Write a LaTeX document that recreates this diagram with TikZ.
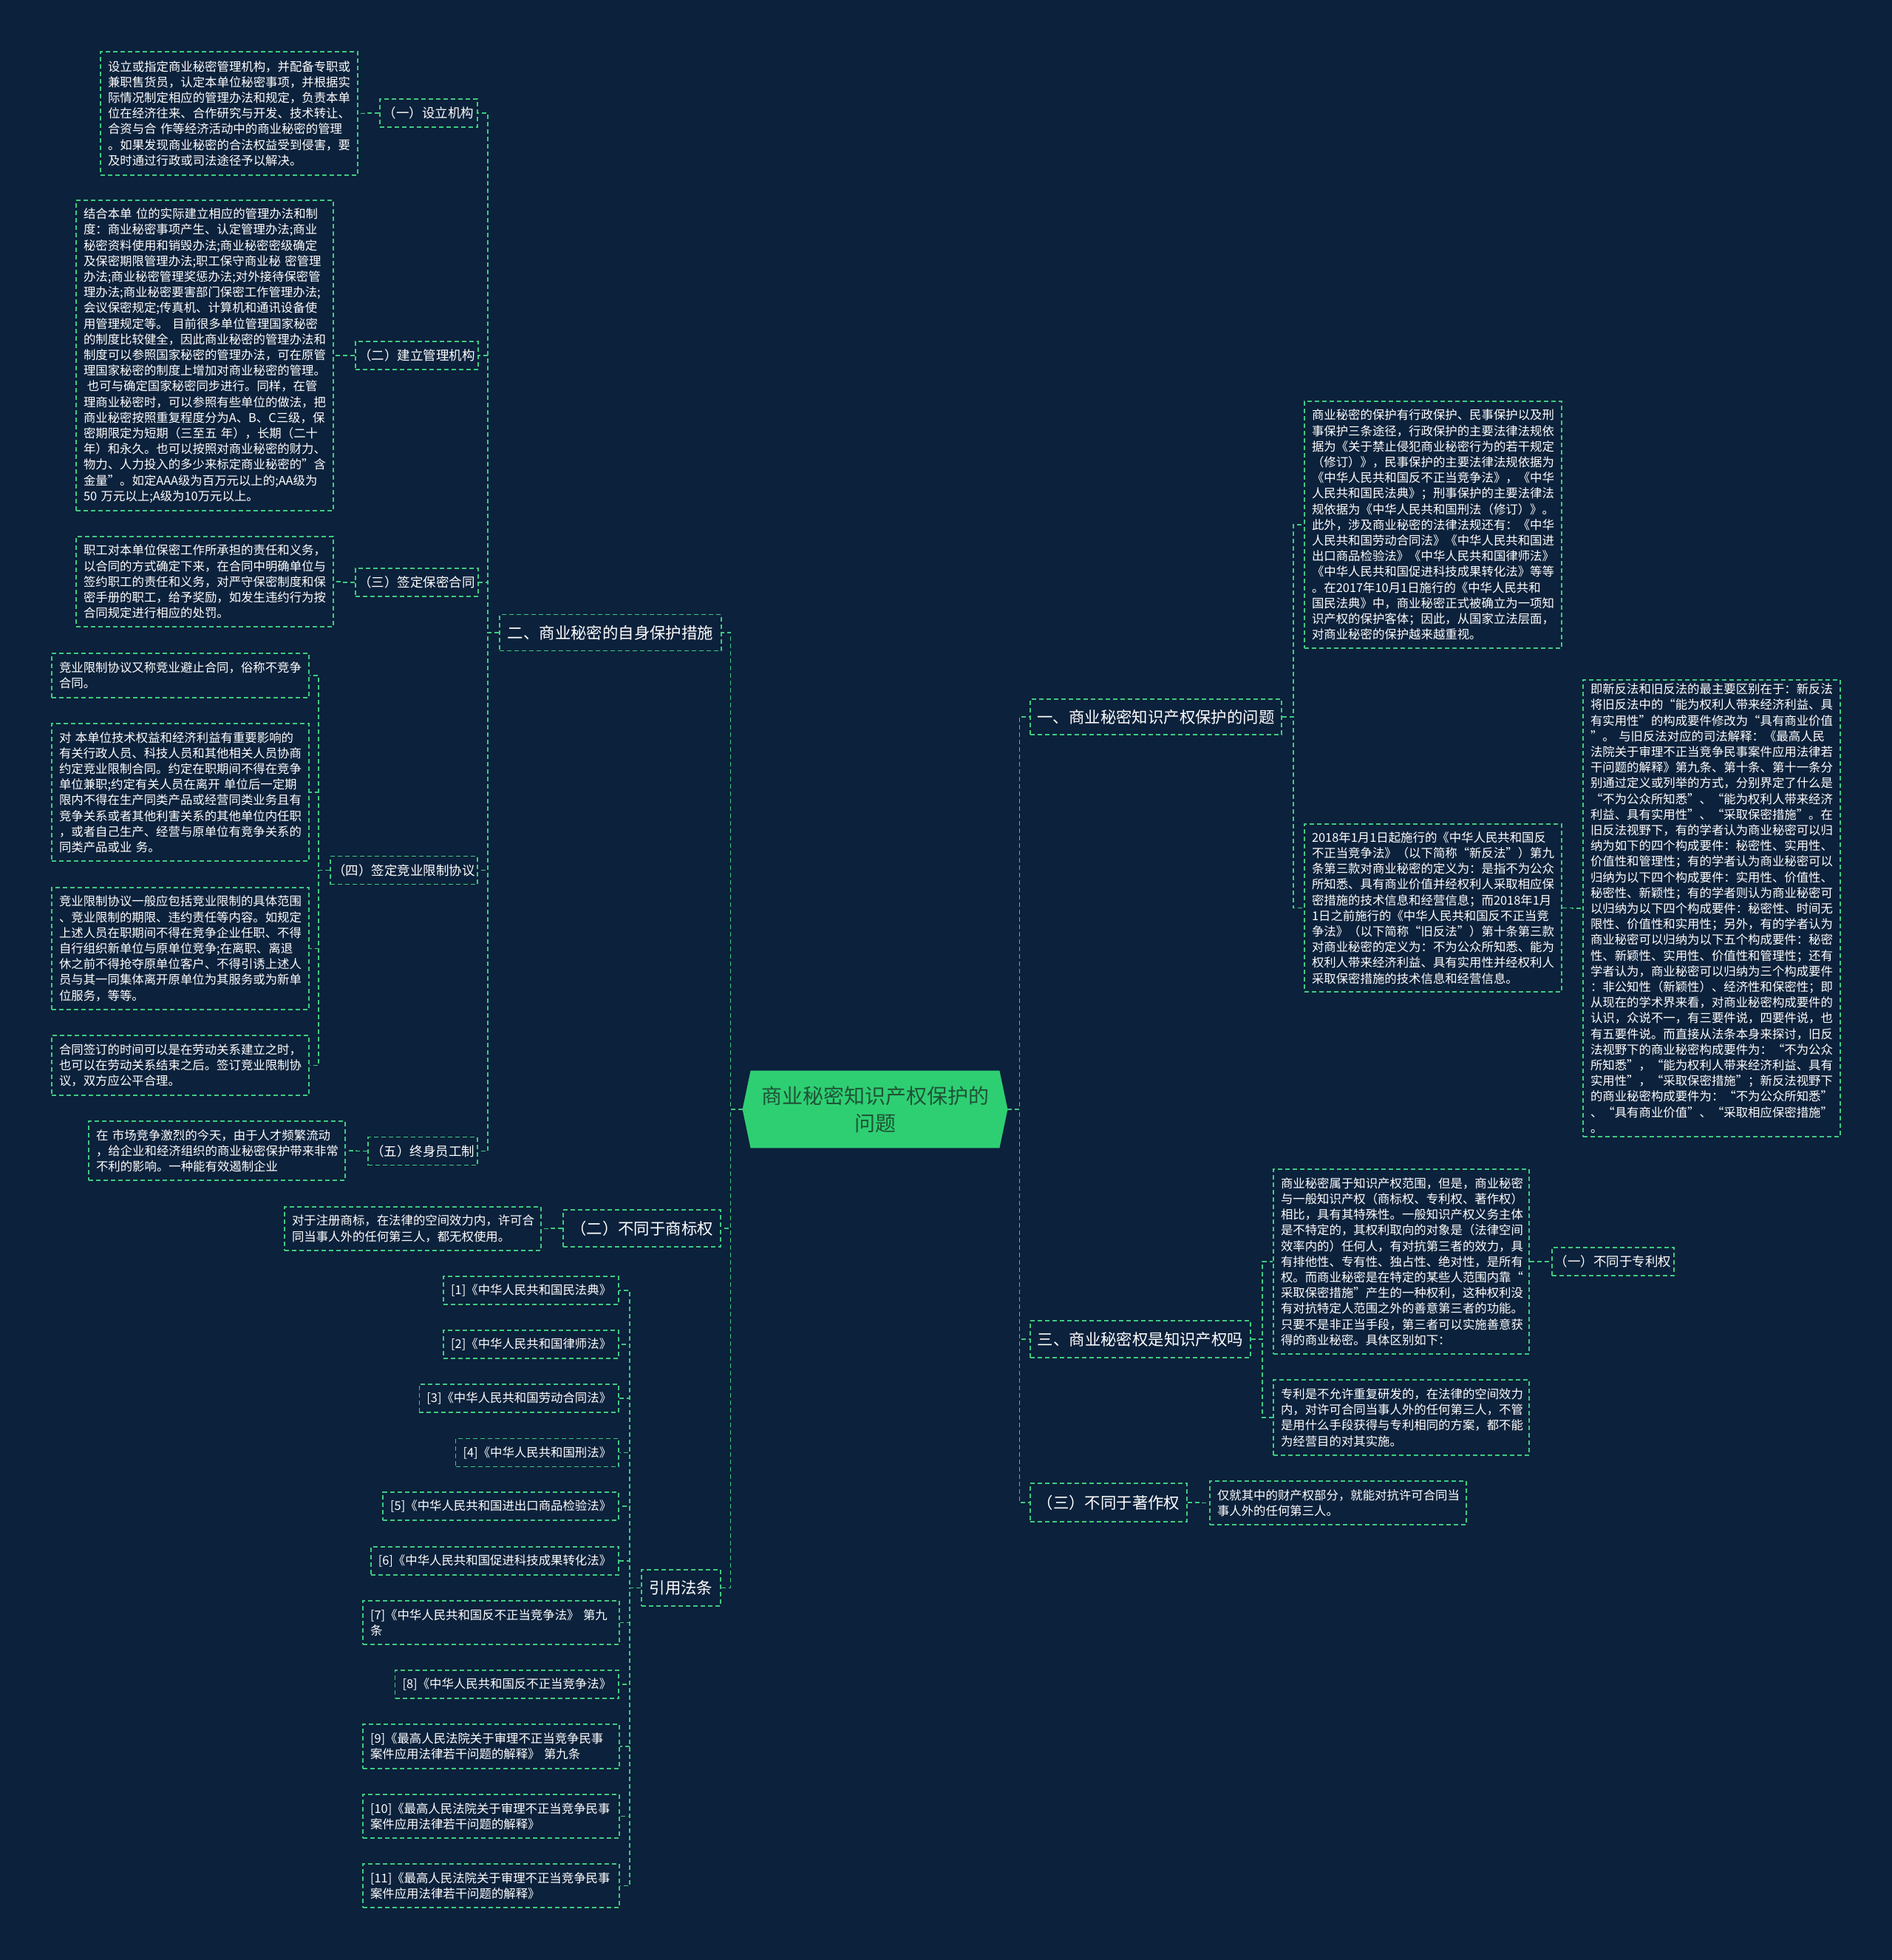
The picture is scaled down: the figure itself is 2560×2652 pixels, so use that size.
\documentclass[tikz,border=0pt]{standalone}
\usepackage{fontspec}
\setmainfont{Noto Sans CJK SC}
\usetikzlibrary{backgrounds}
\definecolor{bgc}{HTML}{0C213B}
\definecolor{lineG}{HTML}{3FCB80}
\definecolor{cfill}{HTML}{2ECF73}
\definecolor{ctext}{HTML}{1F5336}
\newcommand{\myTxt}{\fontsize{8.2pt}{10.6pt}\selectfont}
\newcommand{\myLbl}{\fontsize{8.75pt}{10.6pt}\selectfont}
\newcommand{\myLblB}{\fontsize{10.7pt}{13pt}\selectfont}
\newcommand{\myCen}{\fontsize{14pt}{18.8pt}\selectfont}
\begin{document}
\begin{tikzpicture}[x=0.5pt,y=-0.5pt,
  conn/.style={draw=lineG, line width=0.85pt, dash pattern=on 3pt off 2pt},
  bx/.style={draw=lineG, line width=0.85pt, dash pattern=on 3pt off 2pt, inner sep=0pt, text=white},
  txt/.style={bx, font=\myTxt, align=left, inner xsep=5pt, text width=164pt},
  lbl/.style={bx, font=\myLbl, align=center, minimum height=19pt},
  lblB/.style={bx, font=\myLblB, align=center, minimum height=24.5pt},
  refb/.style={bx, font=\myTxt, anchor=east, inner xsep=5pt, minimum height=19pt},
]
\begin{scope}[on background layer]
\fill[bgc] (0,0) rectangle (2560,2652);
\end{scope}

% centre
\node[font=\myCen, text=ctext, align=center, minimum width=179pt, minimum height=52pt, inner sep=0pt] (C) at (1184,1501) {商业秘密知识产权保护的\\问题};
\begin{scope}[on background layer]
\fill[cfill] (C.west) -- ([xshift=5.5pt]C.north west) -- ([xshift=-5.5pt]C.north east) -- (C.east) -- ([xshift=-5.5pt]C.south east) -- ([xshift=5.5pt]C.south west) -- cycle;
\end{scope}

% left branch 二
\node[lblB, minimum width=150pt] (L2) at (826,856) {二、商业秘密的自身保护措施};
\node[lbl, minimum width=66pt] (a1) at (580,153) {（一）设立机构};
\node[txt, minimum height=83.5pt] (t1) at (310,153.5) {设立或指定商业秘密管理机构，并配备专职或\\兼职售货员，认定本单位秘密事项，并根据实\\际情况制定相应的管理办法和规定，负责本单\\位在经济往来、合作研究与开发、技术转让、\\合资与合 作等经济活动中的商业秘密的管理\\。如果发现商业秘密的合法权益受到侵害，要\\及时通过行政或司法途径予以解决。};
\node[lbl, minimum width=83pt] (a2) at (564,481) {（二）建立管理机构};
\node[txt, minimum height=210pt] (t2) at (277,481) {结合本单 位的实际建立相应的管理办法和制\\度：商业秘密事项产生、认定管理办法;商业\\秘密资料使用和销毁办法;商业秘密密级确定\\及保密期限管理办法;职工保守商业秘 密管理\\办法;商业秘密管理奖惩办法;对外接待保密管\\理办法;商业秘密要害部门保密工作管理办法;\\会议保密规定;传真机、计算机和通讯设备使\\用管理规定等。 目前很多单位管理国家秘密\\的制度比较健全，因此商业秘密的管理办法和\\制度可以参照国家秘密的管理办法，可在原管\\理国家秘密的制度上增加对商业秘密的管理。\\\hspace*{0.3em}也可与确定国家秘密同步进行。同样，在管\\理商业秘密时，可以参照有些单位的做法，把\\商业秘密按照重复程度分为A、B、C三级，保\\密期限定为短期（三至五 年），长期（二十\\年）和永久。也可以按照对商业秘密的财力、\\物力、人力投入的多少来标定商业秘密的”含\\金量”。如定AAA级为百万元以上的;AA级为\\50 万元以上;A级为10万元以上。};
\node[lbl, minimum width=83pt] (a3) at (564,788) {（三）签定保密合同};
\node[txt, minimum height=61pt] (t3) at (277,787) {职工对本单位保密工作所承担的责任和义务，\\以合同的方式确定下来，在合同中明确单位与\\签约职工的责任和义务，对严守保密制度和保\\密手册的职工，给予奖励，如发生违约行为按\\合同规定进行相应的处罚。};
\node[lbl, minimum width=99.5pt] (a4) at (546.5,1177.5) {（四）签定竞业限制协议};
\node[txt, minimum height=30pt] (t4a) at (244,914) {竞业限制协议又称竞业避止合同，俗称不竞争\\合同。};
\node[txt, minimum height=93pt] (t4b) at (244,1072) {对 本单位技术权益和经济利益有重要影响的\\有关行政人员、科技人员和其他相关人员协商\\约定竞业限制合同。约定在职期间不得在竞争\\单位兼职;约定有关人员在离开 单位后一定期\\限内不得在生产同类产品或经营同类业务且有\\竞争关系或者其他利害关系的其他单位内任职\\，或者自己生产、经营与原单位有竞争关系的\\同类产品或业 务。};
\node[txt, minimum height=82.5pt] (t4c) at (244,1283.5) {竞业限制协议一般应包括竞业限制的具体范围\\、竞业限制的期限、违约责任等内容。如规定\\上述人员在职期间不得在竞争企业任职、不得\\自行组织新单位与原单位竞争;在离职、离退\\休之前不得抢夺原单位客户、不得引诱上述人\\员与其一同集体离开原单位为其服务或为新单\\位服务，等等。};
\node[txt, minimum height=40.5pt] (t4d) at (244,1441.5) {合同签订的时间可以是在劳动关系建立之时，\\也可以在劳动关系结束之后。签订竞业限制协\\议，双方应公平合理。};
\node[lbl, minimum width=74pt] (a5) at (572,1557.5) {（五）终身员工制};
\node[txt, text width=163.5pt, minimum height=40pt] (t5) at (293.5,1557) {在 市场竞争激烈的今天，由于人才频繁流动\\，给企业和经济组织的商业秘密保护带来非常\\不利的影响。一种能有效遏制企业};

% left branch 不同于商标权
\node[lblB, minimum width=106.5pt, minimum height=25pt] (L2b) at (868.5,1662) {（二）不同于商标权};
\node[txt, text width=163.5pt, minimum height=29.5pt] (tb) at (558.5,1662.5) {对于注册商标，在法律的空间效力内，许可合\\同当事人外的任何第三人，都无权使用。};

% left branch 引用法条
\node[lblB, minimum width=53.5pt] (L2c) at (921.5,2148.5) {引用法条};
\node[refb] (r1) at (838,1746) {[1]《中华人民共和国民法典》};
\node[refb] (r2) at (838,1819) {[2]《中华人民共和国律师法》};
\node[refb] (r3) at (838,1892) {[3]《中华人民共和国劳动合同法》};
\node[refb] (r4) at (838,1965.5) {[4]《中华人民共和国刑法》};
\node[refb] (r5) at (838,2038) {[5]《中华人民共和国进出口商品检验法》};
\node[refb] (r6) at (838,2112) {[6]《中华人民共和国促进科技成果转化法》};
\node[txt, text width=163.5pt, minimum height=29.5pt] (r7) at (664.5,2195.5) {[7]《中华人民共和国反不正当竞争法》 第九\\条};
\node[refb] (r8) at (838,2279) {[8]《中华人民共和国反不正当竞争法》};
\node[txt, text width=163.5pt, minimum height=30pt] (r9) at (664.5,2363) {[9]《最高人民法院关于审理不正当竞争民事\\案件应用法律若干问题的解释》 第九条};
\node[txt, text width=163.5pt, minimum height=29.5pt] (r10) at (664.5,2457.5) {[10]《最高人民法院关于审理不正当竞争民事\\案件应用法律若干问题的解释》};
\node[txt, text width=163.5pt, minimum height=29.5pt] (r11) at (664.5,2551.5) {[11]《最高人民法院关于审理不正当竞争民事\\案件应用法律若干问题的解释》};

% right branch 一
\node[lblB, minimum width=170pt, minimum height=24pt] (R1) at (1564,970) {一、商业秘密知识产权保护的问题};
\node[txt, minimum height=167pt] (q1) at (1939,710) {商业秘密的保护有行政保护、民事保护以及刑\\事保护三条途径，行政保护的主要法律法规依\\据为《关于禁止侵犯商业秘密行为的若干规定\\（修订）》，民事保护的主要法律法规依据为\\《中华人民共和国反不正当竞争法》，《中华\\人民共和国民法典》；刑事保护的主要法律法\\规依据为《中华人民共和国刑法（修订）》。\\此外，涉及商业秘密的法律法规还有：《中华\\人民共和国劳动合同法》《中华人民共和国进\\出口商品检验法》《中华人民共和国律师法》\\《中华人民共和国促进科技成果转化法》等等\\。在2017年10月1日施行的《中华人民共和\\国民法典》中，商业秘密正式被确立为一项知\\识产权的保护客体；因此，从国家立法层面，\\对商业秘密的保护越来越重视。};
\node[txt, minimum height=113.5pt] (q2) at (1939,1228.5) {2018年1月1日起施行的《中华人民共和国反\\不正当竞争法》（以下简称“新反法”）第九\\条第三款对商业秘密的定义为：是指不为公众\\所知悉、具有商业价值并经权利人采取相应保\\密措施的技术信息和经营信息；而2018年1月\\1日之前施行的《中华人民共和国反不正当竞\\争法》（以下简称“旧反法”）第十条第三款\\对商业秘密的定义为：不为公众所知悉、能为\\权利人带来经济利益、具有实用性并经权利人\\采取保密措施的技术信息和经营信息。};
\node[txt, minimum height=309pt] (q3) at (2316,1229) {即新反法和旧反法的最主要区别在于：新反法\\将旧反法中的“能为权利人带来经济利益、具\\有实用性”的构成要件修改为“具有商业价值\\”。 与旧反法对应的司法解释：《最高人民\\法院关于审理不正当竞争民事案件应用法律若\\干问题的解释》第九条、第十条、第十一条分\\别通过定义或列举的方式，分别界定了什么是\\“不为公众所知悉”、“能为权利人带来经济\\利益、具有实用性”、“采取保密措施”。在\\旧反法视野下，有的学者认为商业秘密可以归\\纳为如下的四个构成要件：秘密性、实用性、\\价值性和管理性；有的学者认为商业秘密可以\\归纳为以下四个构成要件：实用性、价值性、\\秘密性、新颖性；有的学者则认为商业秘密可\\以归纳为以下四个构成要件：秘密性、时间无\\限性、价值性和实用性；另外，有的学者认为\\商业秘密可以归纳为以下五个构成要件：秘密\\性、新颖性、实用性、价值性和管理性；还有\\学者认为，商业秘密可以归纳为三个构成要件\\：非公知性（新颖性）、经济性和保密性；即\\从现在的学术界来看，对商业秘密构成要件的\\认识，众说不一，有三要件说，四要件说，也\\有五要件说。而直接从法条本身来探讨，旧反\\法视野下的商业秘密构成要件为：“不为公众\\所知悉”，“能为权利人带来经济利益、具有\\实用性”，“采取保密措施”；新反法视野下\\的商业秘密构成要件为：“不为公众所知悉”\\、“具有商业价值”、“采取相应保密措施”\\。};

% right branch 三
\node[lblB, minimum width=149pt, minimum height=25pt] (R3) at (1543,1812) {三、商业秘密权是知识产权吗};
\node[txt, text width=163pt, minimum height=125pt] (qA) at (1896,1707) {商业秘密属于知识产权范围，但是，商业秘密\\与一般知识产权（商标权、专利权、著作权）\\相比，具有其特殊性。一般知识产权义务主体\\是不特定的，其权利取向的对象是（法律空间\\效率内的）任何人，有对抗第三者的效力，具\\有排他性、专有性、独占性、绝对性，是所有\\权。而商业秘密是在特定的某些人范围内靠“\\采取保密措施”产生的一种权利，这种权利没\\有对抗特定人范围之外的善意第三者的功能。\\只要不是非正当手段，第三者可以实施善意获\\得的商业秘密。具体区别如下：};
\node[lbl, minimum width=82.5pt] (qP) at (2182.5,1707) {（一）不同于专利权};
\node[txt, text width=163pt, minimum height=51pt] (qB) at (1896,1918) {专利是不允许重复研发的，在法律的空间效力\\内，对许可合同当事人外的任何第三人，不管\\是用什么手段获得与专利相同的方案，都不能\\为经营目的对其实施。};

% right branch 著作权
\node[lblB, minimum width=106pt, minimum height=26pt] (R4) at (1500,2033) {（三）不同于著作权};
\node[txt, text width=163.5pt, minimum height=29.5pt] (qZ) at (1810.5,2033.5) {仅就其中的财产权部分，就能对抗许可合同当\\事人外的任何第三人。};

% connectors
\foreach \n in {L2,L2b,L2c} \draw[conn] (C.west) -- ++(-16,0) |- (\n.east);
\foreach \n in {R1,R3,R4} \draw[conn] (C.east) -- ++(16,0) |- (\n.west);
\foreach \n in {a1,a2,a3,a4,a5} \draw[conn] (L2.west) -- ++(-15,0) |- (\n.east);
\draw[conn] (a1.west) -- ++(-15,0) |- (t1.east);
\draw[conn] (a2.west) -- ++(-15,0) |- (t2.east);
\draw[conn] (a3.west) -- ++(-15,0) |- (t3.east);
\foreach \n in {t4a,t4b,t4c,t4d} \draw[conn] (a4.west) -- ++(-15,0) |- (\n.east);
\draw[conn] (a5.west) -- ++(-15,0) |- (t5.east);
\draw[conn] (L2b.west) -- ++(-15,0) |- (tb.east);
\foreach \n in {r1,r2,r3,r4,r5,r6,r7,r8,r9,r10,r11} \draw[conn] (L2c.west) -- ++(-15,0) |- (\n.east);
\foreach \n in {q1,q2} \draw[conn] (R1.east) -- ++(15,0) |- (\n.west);
\draw[conn] (q2.east) -- ++(14,0) |- (q3.west);
\foreach \n in {qA,qB} \draw[conn] (R3.east) -- ++(15,0) |- (\n.west);
\draw[conn] (qA.east) -- ++(15,0) |- (qP.west);
\draw[conn] (R4.east) -- ++(15,0) |- (qZ.west);
\end{tikzpicture}
\end{document}
